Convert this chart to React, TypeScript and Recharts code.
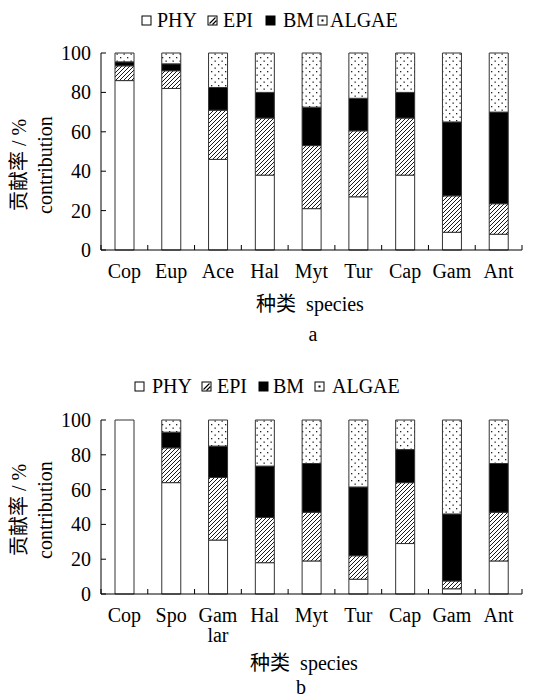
import { BarChart, Bar, XAxis, YAxis } from 'recharts';

const FONT = '"Liberation Serif", "Times New Roman", "Noto Sans CJK SC", serif';

const SERIES = ['PHY', 'EPI', 'BM', 'ALGAE'];
const Y_TICKS = [0, 20, 40, 60, 80, 100];

// panel a
const CATS_A = ['Cop', 'Eup', 'Ace', 'Hal', 'Myt', 'Tur', 'Cap', 'Gam', 'Ant'];
const PHY_A = [86, 82, 46, 38, 21, 27, 38, 9, 8];
const EPI_A = [7.5, 9, 25, 29, 32, 33.5, 29, 18.5, 15.5];
const BM_A = [2, 3.5, 11.5, 13, 19.5, 16.5, 13, 37.5, 46.5];
const ALGAE_A = [4.5, 5.5, 17.5, 20, 27.5, 23, 20, 35, 30];

// panel b
const CATS_B = ['Cop', 'Spo', 'Gam lar', 'Hal', 'Myt', 'Tur', 'Cap', 'Gam', 'Ant'];
const PHY_B = [100, 64, 31, 18, 19, 8.5, 29, 3, 19];
const EPI_B = [0, 20, 36, 26, 28, 13.5, 35, 4.5, 28];
const BM_B = [0, 9, 18, 29.5, 28, 39.5, 19, 38.5, 28];
const ALGAE_B = [0, 7, 15, 26.5, 25, 38.5, 17, 54, 25];

const W = 535;
const Y_AXIS_W = 101;
const RIGHT = 13;
const BAND = (W - Y_AXIS_W - RIGHT) / 9;

const TXT = { fontFamily: FONT, fontSize: 20, fill: '#000' };

function fillFor(name: string, id: string) {
  if (name === 'PHY') return '#ffffff';
  if (name === 'EPI') return `url(#hatch-${id})`;
  if (name === 'BM') return '#000000';
  return `url(#dots-${id})`;
}

function YTick(props: any) {
  const { x, y, payload } = props;
  return (
    <g>
      <line x1={x + 10} x2={x + 15} y1={y} y2={y} stroke="#000" />
      <text x={x} y={y + 7} textAnchor="end" style={TXT}>
        {payload.value}
      </text>
    </g>
  );
}

function XTick(props: any) {
  const { x, y, payload, index, count } = props;
  const lines = String(payload.value).split(' ');
  return (
    <g>
      <line x1={x - BAND / 2} x2={x - BAND / 2} y1={y} y2={y - 5} stroke="#000" />
      {index === count - 1 && (
        <line x1={x + BAND / 2} x2={x + BAND / 2} y1={y} y2={y - 5} stroke="#000" />
      )}
      {lines.map((l, i) => (
        <text key={i} x={x} y={y + 28 + i * 20} textAnchor="middle" style={TXT}>
          {l}
        </text>
      ))}
    </g>
  );
}

function Panel(props: {
  id: string;
  cats: string[];
  phy: number[];
  epi: number[];
  bm: number[];
  algae: number[];
  top: number;
  height: number;
  marginTop: number;
  axisHeight: number;
}) {
  const { id, cats, phy, epi, bm, algae } = props;
  const rows = cats.map((c, i) => ({ cat: c, PHY: phy[i], EPI: epi[i], BM: bm[i], ALGAE: algae[i] }));
  return (
    <div style={{ position: 'absolute', left: 0, top: props.top }}>
      <BarChart
        width={W}
        height={props.height}
        data={rows}
        margin={{ top: props.marginTop, right: RIGHT, left: 0, bottom: 0 }}
        barSize={19}
      >
        <defs>
          <pattern id={`hatch-${id}`} patternUnits="userSpaceOnUse" width={4} height={4}>
            <rect width={4} height={4} fill="#fff" />
            <path d="M-1,1 l2,-2 M0,4 l4,-4 M3,5 l2,-2" stroke="#000" strokeWidth={0.9} />
          </pattern>
          <pattern id={`dots-${id}`} patternUnits="userSpaceOnUse" width={7} height={7}>
            <rect width={7} height={7} fill="#fff" />
            <rect x={1} y={1} width={1.3} height={1.3} fill="#222" />
            <rect x={4.5} y={4.5} width={1.3} height={1.3} fill="#222" />
          </pattern>
        </defs>
        <XAxis
          dataKey="cat"
          height={props.axisHeight}
          interval={0}
          tickSize={0}
          tickMargin={0}
          tickLine={false}
          axisLine={{ stroke: '#000' }}
          tick={(p: any) => <XTick {...p} count={cats.length} />}
        />
        <YAxis
          width={Y_AXIS_W}
          domain={[0, 100]}
          ticks={Y_TICKS}
          interval={0}
          tickSize={0}
          tickMargin={10}
          tickLine={false}
          axisLine={{ stroke: '#000' }}
          tick={<YTick />}
        />
        {SERIES.map((s) => (
          <Bar
            key={s}
            dataKey={s}
            stackId="a"
            fill={fillFor(s, id)}
            stroke="#333"
            strokeWidth={1}
            isAnimationActive={false}
          />
        ))}
      </BarChart>
    </div>
  );
}

function Swatch({ kind, x, y }: { kind: string; x: number; y: number }) {
  return (
    <g>
      <rect x={x} y={y} width={9} height={9} fill={kind === 'BM' ? '#000' : '#fff'} stroke="#000" />
      {kind === 'EPI' && <path d={`M${x + 1.5},${y + 7.5} L${x + 7.5},${y + 1.5} M${x + 4.5},${y + 8.5} L${x + 8.5},${y + 4.5}`} stroke="#000" strokeWidth={1.2} />}
      {kind === 'ALGAE' && <rect x={x + 3.5} y={y + 3.5} width={2} height={2} fill="#000" />}
    </g>
  );
}

function Legend({ baseline, swatchX, textX }: { baseline: number; swatchX: number[]; textX: number[] }) {
  return (
    <g>
      {SERIES.map((s, i) => (
        <g key={s}>
          <Swatch kind={s} x={swatchX[i]} y={baseline - 11} />
          <text x={textX[i]} y={baseline} style={TXT}>
            {s}
          </text>
        </g>
      ))}
    </g>
  );
}

function YTitle({ cy }: { cy: number }) {
  return (
    <g>
      <text x={26} y={cy} textAnchor="middle" transform={`rotate(-90, 26, ${cy})`} style={TXT}>
        贡献率 / %
      </text>
      <text x={52} y={cy} textAnchor="middle" transform={`rotate(-90, 52, ${cy})`} style={TXT}>
        contribution
      </text>
    </g>
  );
}

export default function App() {
  return (
    <div style={{ position: 'absolute', left: 0, top: 0, width: W, height: 699, background: '#fff', fontFamily: FONT }}>
      <Panel id="a" cats={CATS_A} phy={PHY_A} epi={EPI_A} bm={BM_A} algae={ALGAE_A} top={0} height={290} marginTop={53} axisHeight={40} />
      <Panel id="b" cats={CATS_B} phy={PHY_B} epi={EPI_B} bm={BM_B} algae={ALGAE_B} top={360} height={339} marginTop={60} axisHeight={105} />
      <svg width={W} height={699} style={{ position: 'absolute', left: 0, top: 0, pointerEvents: 'none' }}>
        <Legend baseline={27} swatchX={[142, 208, 266, 318]} textX={[157, 223, 283, 330]} />
        <Legend baseline={393} swatchX={[135, 202, 259, 315]} textX={[152, 217, 273, 332]} />
        <YTitle cy={165} />
        <YTitle cy={510} />
        <g textAnchor="middle">
          <text x={310} y={311} style={TXT}>种类{'\u2002'}species</text>
          <text x={313} y={341} style={TXT}>a</text>
          <text x={304} y={670} style={TXT}>种类{'\u2002'}species</text>
          <text x={301} y={694} style={TXT}>b</text>
        </g>
      </svg>
    </div>
  );
}
